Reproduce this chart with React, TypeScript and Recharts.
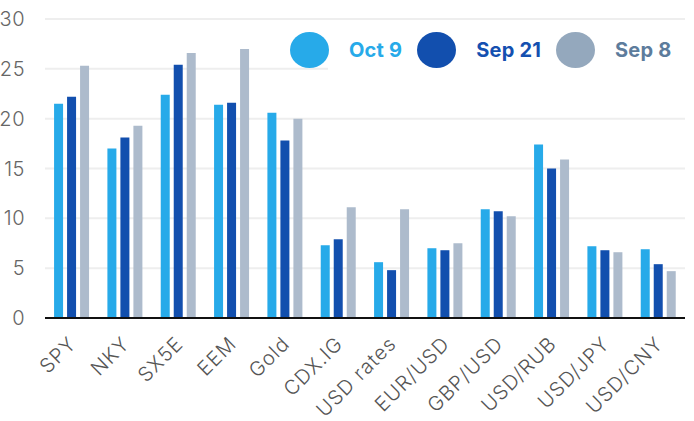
import React from 'react';
import { BarChart, Bar, XAxis, YAxis, CartesianGrid, Legend } from 'recharts';

const categories = ['SPY', 'NKY', 'SX5E', 'EEM', 'Gold', 'CDX.IG', 'USD rates', 'EUR/USD', 'GBP/USD', 'USD/RUB', 'USD/JPY', 'USD/CNY'];
const oct9 = [21.5, 17.0, 22.4, 21.4, 20.6, 7.3, 5.6, 7.0, 10.9, 17.4, 7.2, 6.9];
const sep21 = [22.2, 18.1, 25.4, 21.6, 17.8, 7.9, 4.8, 6.8, 10.7, 15.0, 6.8, 5.4];
const sep8 = [25.3, 19.3, 26.6, 27.0, 20.0, 11.1, 10.9, 7.5, 10.2, 15.9, 6.6, 4.7];
const yTicks = [0, 5, 10, 15, 20, 25, 30];

const data = categories.map((name, i) => ({
  name,
  oct9: oct9[i],
  sep21: sep21[i],
  sep8: sep8[i],
}));

const FONT = 'Inter, "Open Sans", sans-serif';

const seriesStyle: Record<string, { fill: string; dot: string; text: string }> = {
  'Oct 9': { fill: '#27aae9', dot: '#27aae9', text: '#27aae9' },
  'Sep 21': { fill: '#124fae', dot: '#124fae', text: '#1450b0' },
  'Sep 8': { fill: '#adbbcc', dot: '#94a8bd', text: '#5d7c9c' },
};

const XTick = (props: any) => {
  const { x, y, payload } = props;
  const ax = x + 6;
  const ay = y + 27;
  return (
    <text
      x={ax}
      y={ay}
      textAnchor="end"
      transform={`rotate(-45, ${ax}, ${ay})`}
      fill="#555"
      fontSize={20}
      letterSpacing={1.1}
      fontFamily={FONT}
      fontWeight={300}
    >
      {payload.value}
    </text>
  );
};

const LegendContent = (props: any) => {
  const items = (props.payload || []) as any[];
  return (
    <div style={{ position: 'relative', height: 44, display: 'flex', alignItems: 'center', fontFamily: FONT, whiteSpace: 'nowrap' }}>
      <div style={{ position: 'absolute', left: 38, right: 0, top: 0, bottom: 0, background: '#fff' }} />
      {items.map((it) => {
        const s = seriesStyle[it.value];
        return (
          <div key={it.value} style={{ position: 'relative', display: 'flex', alignItems: 'center', flexShrink: 0, marginRight: 15 }}>
            <span style={{ display: 'inline-block', flexShrink: 0, width: 39, height: 36, borderRadius: '50%', background: s.dot, marginRight: 20 }} />
            <span style={{ color: s.text, fontSize: 20, letterSpacing: 0.2, fontWeight: 700 }}>{it.value}</span>
          </div>
        );
      })}
    </div>
  );
};

export default function App() {
  return (
    <div style={{ position: 'absolute', left: 0, top: 0 }}>
      <BarChart
        width={694}
        height={421}
        data={data}
        margin={{ top: 19, right: 9, left: 0, bottom: 0 }}
        barCategoryGap="17%"
        barGap={4}
      >
        <CartesianGrid vertical={false} stroke="#eeeeee" strokeWidth={2} />
        <YAxis
          width={45}
          domain={[0, 30]}
          ticks={yTicks}
          axisLine={false}
          tickLine={false}
          tickSize={0}
          tickMargin={20}
          tick={{ fill: '#666', fontSize: 20, fontFamily: FONT, fontWeight: 300, letterSpacing: 0.5 }}
        />
        <XAxis
          dataKey="name"
          height={103}
          interval={0}
          tickLine={false}
          tickSize={0}
          tickMargin={0}
          axisLine={{ stroke: '#111', strokeWidth: 2 }}
          tick={<XTick />}
        />
        <Legend
          layout="horizontal"
          verticalAlign="middle"
          align="center"
          content={<LegendContent />}
          wrapperStyle={{ position: 'absolute', left: 290, top: 28, width: 395, height: 44 }}
        />
        <Bar dataKey="oct9" name="Oct 9" fill={seriesStyle['Oct 9'].fill} isAnimationActive={false} />
        <Bar dataKey="sep21" name="Sep 21" fill={seriesStyle['Sep 21'].fill} isAnimationActive={false} />
        <Bar dataKey="sep8" name="Sep 8" fill={seriesStyle['Sep 8'].fill} isAnimationActive={false} />
      </BarChart>
    </div>
  );
}
